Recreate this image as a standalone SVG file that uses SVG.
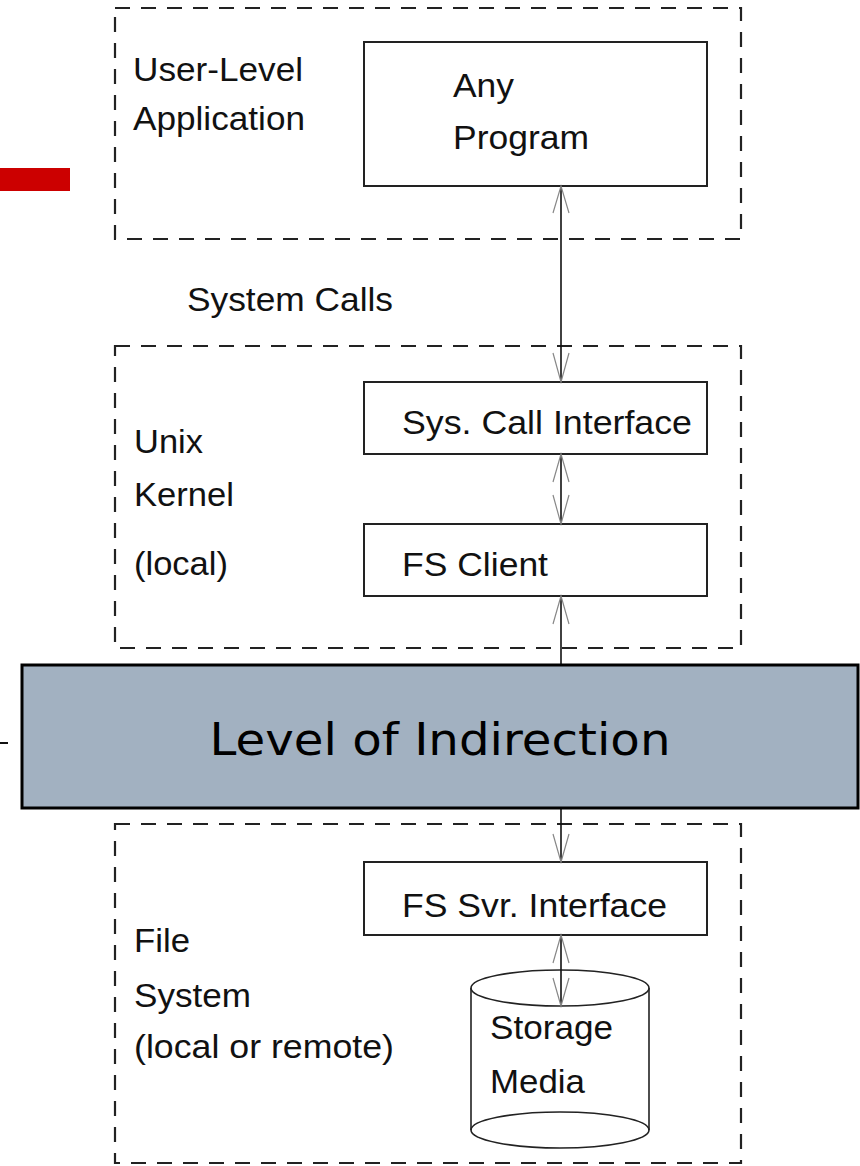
<svg xmlns="http://www.w3.org/2000/svg" width="860" height="1166" viewBox="0 0 860 1166">
<style>
.t{font-family:"Liberation Sans",Arial,sans-serif;font-size:33px;fill:#111}
.dash{fill:none;stroke:#222;stroke-width:2.2;stroke-dasharray:15 11}
.box{fill:#fff;stroke:#222;stroke-width:2}
.ln{stroke:#111;stroke-width:1.6;fill:none}
.ah{stroke:#888;stroke-width:1.2;fill:none}
</style>
<rect width="860" height="1166" fill="#fff"/>
<rect x="0" y="168" width="70" height="23" fill="#cc0000"/>
<line x1="0" y1="743" x2="8" y2="743" stroke="#111" stroke-width="2"/>

<g id="user-level">
<rect class="dash" x="115" y="8" width="626" height="231"/>
<text class="t" x="133" y="81" textLength="170" lengthAdjust="spacingAndGlyphs">User-Level</text>
<text class="t" x="133" y="130" textLength="172" lengthAdjust="spacingAndGlyphs">Application</text>
</g>
<g id="any-program">
<rect class="box" x="364" y="42" width="343" height="144"/>
<text class="t" x="453" y="97" textLength="61" lengthAdjust="spacingAndGlyphs">Any</text>
<text class="t" x="453" y="149" textLength="136" lengthAdjust="spacingAndGlyphs">Program</text>
</g>
<g id="system-calls-label">
<text class="t" x="187" y="311" textLength="206" lengthAdjust="spacingAndGlyphs">System Calls</text>
</g>
<g id="unix-kernel">
<rect class="dash" x="115" y="346" width="626" height="302"/>
<text class="t" x="134" y="453" textLength="69" lengthAdjust="spacingAndGlyphs">Unix</text>
<text class="t" x="134" y="506" textLength="100" lengthAdjust="spacingAndGlyphs">Kernel</text>
<text class="t" x="134" y="575" textLength="94" lengthAdjust="spacingAndGlyphs">(local)</text>
</g>
<g id="sys-call-interface">
<rect class="box" x="364" y="382" width="343" height="72"/>
<text class="t" x="402" y="434" textLength="290" lengthAdjust="spacingAndGlyphs">Sys. Call Interface</text>
</g>
<g id="fs-client">
<rect class="box" x="364" y="524" width="343" height="72"/>
<text class="t" x="402" y="576" textLength="146" lengthAdjust="spacingAndGlyphs">FS Client</text>
</g>
<g id="file-system">
<rect class="dash" x="115" y="824" width="626" height="339"/>
<text class="t" x="134" y="952" textLength="56" lengthAdjust="spacingAndGlyphs">File</text>
<text class="t" x="134" y="1007" textLength="117" lengthAdjust="spacingAndGlyphs">System</text>
<text class="t" x="134" y="1058" textLength="260" lengthAdjust="spacingAndGlyphs">(local or remote)</text>
</g>
<g id="fs-svr-interface">
<rect class="box" x="364" y="862" width="343" height="73"/>
<text class="t" x="402" y="917" textLength="265" lengthAdjust="spacingAndGlyphs">FS Svr. Interface</text>
</g>
<g id="storage-media">
<path d="M471 988 L471 1130 A89 18 0 0 0 649 1130 L649 988" fill="#fff" stroke="#222" stroke-width="1.6"/>
<ellipse cx="560" cy="988" rx="89" ry="18" fill="#fff" stroke="#222" stroke-width="1.6"/>
<path d="M471 1130 A89 18 0 0 1 649 1130" fill="none" stroke="#222" stroke-width="1.6"/>
<text class="t" x="490" y="1039" textLength="123" lengthAdjust="spacingAndGlyphs">Storage</text>
<text class="t" x="490" y="1093" textLength="95" lengthAdjust="spacingAndGlyphs">Media</text>
</g>

<g id="connectors">
<line class="ln" x1="561" y1="186" x2="561" y2="382"/>
<path class="ah" d="M553 213 L561 186 L569 213 M553 353 L561 382 L569 353"/>
<line class="ln" x1="561" y1="454" x2="561" y2="524"/>
<path class="ah" d="M553 482 L561 454 L569 482 M553 495 L561 524 L569 495"/>
<line class="ln" x1="561" y1="596" x2="561" y2="862"/>
<path class="ah" d="M553 624 L561 596 L569 624 M553 834 L561 862 L569 834"/>
<line class="ln" x1="561" y1="935" x2="561" y2="1006"/>
<path class="ah" d="M553 963 L561 935 L569 963 M553 978 L561 1006 L569 978"/>
</g>

<g id="level-of-indirection">
<rect x="22" y="665" width="836" height="143" fill="#a2b1c1" stroke="#000" stroke-width="3"/>
<text x="440" y="755" text-anchor="middle" font-family="'DejaVu Sans',Verdana,sans-serif" font-size="45" fill="#000" textLength="461" lengthAdjust="spacingAndGlyphs">Level of Indirection</text>
</g>
</svg>
